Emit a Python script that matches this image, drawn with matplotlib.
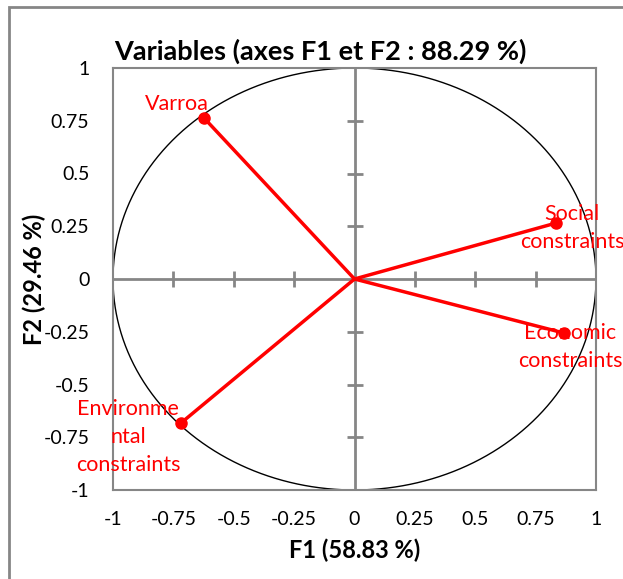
import numpy as np
import matplotlib
matplotlib.use("Agg")
import matplotlib.pyplot as plt
from matplotlib.patches import Rectangle

# variables and their coordinates on F1/F2
variables = ["Varroa", "Social\nconstraints", "Economic\nconstraints", "Environme\nntal\nconstraints"]
f1 = [-0.623, 0.834, 0.867, -0.718]
f2 = [0.763, 0.265, -0.256, -0.682]
label_offsets = [(-27, 14), (16, -5), (6, -14), (-53, -14)]   # pixels
ticks = [-1, -0.75, -0.5, -0.25, 0, 0.25, 0.5, 0.75, 1]
tick_labels = ["-1", "-0.75", "-0.5", "-0.25", "0", "0.25", "0.5", "0.75", "1"]

plt.rcParams['font.family'] = ['Lato', 'DejaVu Sans']
grey = '#868686'

fig = plt.figure(figsize=(6.23, 5.79), dpi=100)
fig.patches.append(Rectangle((9 / 623, -0.1), 1.2, 1 - 7 / 579 + 0.1, transform=fig.transFigure,
                             fill=False, edgecolor=grey, linewidth=2))
ax = fig.add_axes([113 / 623, 1 - 490 / 579, 483 / 623, 422 / 579])

# correlation circle
t = np.linspace(0, 2 * np.pi, 400)
ax.plot(np.cos(t), np.sin(t), color='black', linewidth=1)

# centre axes with crossing ticks
ax.axhline(0, color=grey, linewidth=2)
ax.axvline(0, color=grey, linewidth=2)
inner = [v for v in ticks if v not in (-1, 0, 1)]
ax.plot(inner, [0] * len(inner), linestyle='none', marker='|', markersize=11, markeredgewidth=2, color=grey)
ax.plot([0] * len(inner), inner, linestyle='none', marker='_', markersize=11, markeredgewidth=2, color=grey)

for name, x, y, off in zip(variables, f1, f2, label_offsets):
    ax.plot([0, x], [0, y], color='#ff0000', linewidth=2.5)
    ax.plot(x, y, 'o', color='#ff0000', markersize=8)
    ax.annotate(name, (x, y), xytext=off, textcoords='offset pixels', ha='center', va='center',
                multialignment='center', color='#ff0000', fontsize=15.5, linespacing=1.5,
                annotation_clip=False)

ax.set_xlim(-1, 1)
ax.set_ylim(-1, 1)
ax.set_xticks(ticks)
ax.set_xticklabels(tick_labels)
ax.set_yticks(ticks)
ax.set_yticklabels(tick_labels)
ax.tick_params(axis='x', length=0, labelsize=14, pad=15)
ax.tick_params(axis='y', length=0, labelsize=14, pad=17)
for s in ax.spines.values():
    s.set_color(grey)
    s.set_linewidth(1.5)

ax.set_title("Variables (axes F1 et F2 : 88.29 %)", fontsize=19.5, fontweight='bold', pad=6, x=0.43)
ax.set_xlabel("F1 (58.83 %)", fontsize=17, fontweight='bold', labelpad=8)
ax.set_ylabel("F2 (29.46 %)", fontsize=17, fontweight='bold', labelpad=-2)

fig.savefig("out.png", dpi=100)
